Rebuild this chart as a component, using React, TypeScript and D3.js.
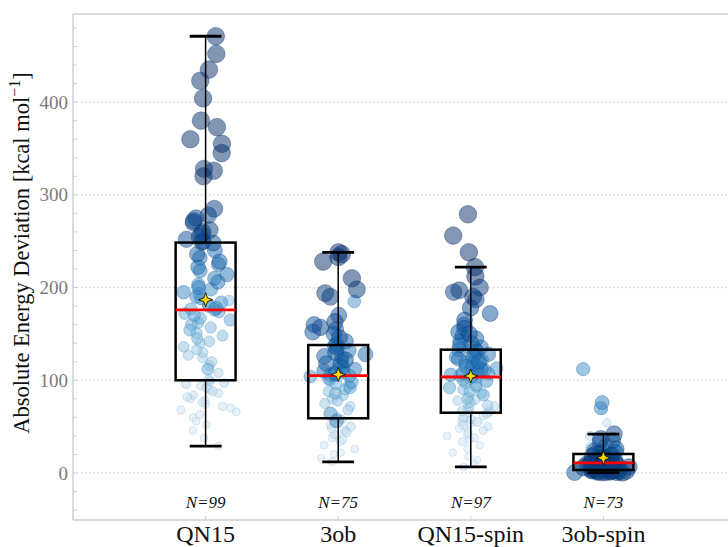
import React from "react";
import * as d3 from "d3";

// ---- data ----
const categories = ["QN15", "3ob", "QN15-spin", "3ob-spin"];
const yTicks = [0, 100, 200, 300, 400];
const yLabel = "Absolute Energy Deviation [kcal mol";

// [absolute deviation, colour/size variable (0..1)]
const qn15: [number, number][] = [
  [471, 1], [452, 1], [435, 1], [423, 1], [404, 1], [380, 1], [373, 1], [360, 1], [355, 1], [345, 1], [328, 0.98], [326, 1], [320, 1],
  [285, 0.95], [278, 0.9], [275, 0.88], [272, 0.92], [270, 0.9], [262, 0.93], [260, 0.92], [258, 0.9], [255, 0.92], [252, 0.88], [250, 0.9], [249, 0.9],
  [248, 0.85], [240, 0.75], [236, 0.8], [232, 0.72], [228, 0.78], [225, 0.7], [222, 0.72], [218, 0.68], [214, 0.7], [210, 0.65], [206, 0.7], [203, 0.62], [200, 0.65], [198, 0.6], [195, 0.62], [193, 0.58], [190, 0.6], [188, 0.55], [186, 0.35], [184, 0.55], [182, 0.5], [180, 0.55], [178, 0.6], [177, 0.5], [176, 0.55],
  [174, 0.5], [172, 0.45], [170, 0.5], [167, 0.45], [165, 0.48], [162, 0.42], [160, 0.45], [157, 0.4], [154, 0.45], [151, 0.4],
  [148, 0.38], [145, 0.4], [142, 0.35], [140, 0.3], [136, 0.35], [133, 0.3], [130, 0.28], [127, 0.3], [124, 0.25], [120, 0.3], [116, 0.28], [112, 0.45], [108, 0.22], [101, 0.25],
  [99, 0.2], [97, 0.18], [96, 0.2], [94, 0.15], [92, 0.18], [90, 0.15], [88, 0.2], [86, 0.15], [84, 0.12], [82, 0.15], [80, 0.12], [78, 0.1], [76, 0.12], [74, 0.1], [72, 0.12], [70, 0.1], [68, 0.1], [66, 0.08], [63, 0.1], [60, 0.08], [56, 0.08], [52, 0.06], [46, 0.06], [38, 0.05], [29, 0.05],
];

const ob3: [number, number][] = [
  [238, 1], [236, 1], [233, 1], [228, 1], [210, 1], [198, 0.95], [194, 0.95], [190, 0.95], [185, 0.55], [170, 0.85], [163, 0.9], [160, 0.85], [157, 0.9], [155, 0.8], [152, 0.85], [150, 0.8], [146, 0.85], [142, 0.8], [139, 0.75],
  [137, 0.8], [135, 0.75], [132, 0.7], [130, 0.85], [128, 0.75], [126, 0.8], [124, 0.7], [122, 0.85], [120, 0.75], [118, 0.8], [116, 0.7], [114, 0.75], [112, 0.65], [110, 0.7], [109, 0.6], [108, 0.65], [107, 0.75], [106, 0.6],
  [105, 0.6],
  [104, 0.55], [102, 0.5], [100, 0.45], [98, 0.55], [96, 0.45], [94, 0.4], [92, 0.5], [90, 0.4], [88, 0.35], [86, 0.45], [84, 0.35], [80, 0.3], [78, 0.35], [75, 0.3], [72, 0.25], [68, 0.3], [64, 0.6], [60, 0.25],
  [58, 0.2], [56, 0.6], [54, 0.2], [52, 0.15], [50, 0.2], [48, 0.15], [46, 0.15], [44, 0.2], [42, 0.12], [40, 0.1], [38, 0.1], [36, 0.12], [34, 0.1], [30, 0.08], [26, 0.08], [22, 0.06], [20, 0.06], [16, 0.05], [12, 0.05],
];

const qn15spin: [number, number][] = [
  [279, 1], [256, 1], [238, 1], [222, 1], [212, 1], [200, 0.95], [197, 0.95], [195, 0.9], [190, 0.95], [187, 0.9], [178, 0.9], [172, 0.85], [165, 0.85], [160, 0.8], [156, 0.85], [152, 0.8], [150, 0.85], [148, 0.75], [145, 0.8], [142, 0.75], [140, 0.8], [138, 0.75], [136, 0.7], [134, 0.75],
  [133, 0.7],
  [131, 0.75], [130, 0.65], [128, 0.7], [126, 0.75], [125, 0.65], [123, 0.7], [122, 0.6], [120, 0.75], [119, 0.65], [118, 0.7], [116, 0.6], [115, 0.7], [114, 0.65], [113, 0.55], [112, 0.7], [111, 0.6], [110, 0.55], [109, 0.65], [108, 0.6], [107, 0.55], [106, 0.6], [105, 0.5], [104, 0.55],
  [103.5, 0.5],
  [102, 0.5], [100, 0.45], [99, 0.55], [97, 0.4], [95, 0.45], [93, 0.4], [92, 0.5], [90, 0.35], [88, 0.4], [86, 0.35], [84, 0.45], [82, 0.3], [80, 0.35], [79, 0.3], [78, 0.25], [76, 0.3], [75, 0.25], [73, 0.3], [72, 0.2], [70, 0.25], [69, 0.2], [67, 0.25], [66, 0.2],
  [65, 0.2],
  [64, 0.2], [62, 0.15], [60, 0.2], [58, 0.15], [56, 0.15], [55, 0.2], [53, 0.12], [52, 0.15], [50, 0.12], [48, 0.1], [46, 0.12], [44, 0.1], [42, 0.1], [40, 0.08], [38, 0.1], [36, 0.08], [34, 0.08], [30, 0.06], [26, 0.06], [22, 0.05], [18, 0.05], [14, 0.05], [10, 0.05], [6.5, 0.05],
];

const ob3spin: [number, number][] = [
  [112, 0.6], [76, 0.65], [70, 0.6], [68, 0.2], [54, 0.15], [42, 0.9], [40, 0.2], [37, 0.9], [35, 0.85], [33, 0.8], [30, 0.7], [28, 0.2], [26, 0.85], [25, 0.3], [24, 0.8], [23, 0.75], [22, 0.85], [21, 0.3],
  [20.5, 0.9],
  [20, 0.85], [19, 0.9], [18.5, 0.8], [18, 0.9], [17, 0.85], [16.5, 0.9], [16, 0.8], [15, 0.9], [14.5, 0.85], [14, 0.95], [13.5, 0.8], [13, 0.9], [12.5, 0.85], [12, 0.95], [11.5, 0.9], [11.2, 0.85], [11, 0.9],
  [10.8, 0.9],
  [10.5, 0.95], [10, 0.85], [9.5, 0.9], [9, 0.95], [8.5, 0.85], [8, 0.9], [7.5, 0.95], [7, 0.85], [6.5, 0.9], [6, 0.95], [5.5, 0.9], [5, 0.85], [4.8, 0.9], [4.5, 0.95], [4, 0.85], [3.6, 0.9], [3.4, 0.95],
  [3.2, 0.9],
  [3.1, 0.9], [3, 0.85], [2.8, 0.95], [2.6, 0.9], [2.4, 0.85], [2.2, 0.95], [2, 0.9], [1.8, 0.85], [1.6, 0.9], [1.4, 0.95], [1.2, 0.85], [1, 0.9], [0.9, 0.3], [0.8, 0.95], [0.6, 0.9], [0.5, 0.85], [0.4, 0.9], [0.3, 0.95],
];

const groups = [qn15, ob3, qn15spin, ob3spin];

// ---- layout ----
const W = 728;
const H = 547;
const x = d3.scaleLinear().domain([0, 5]).range([73, 736]);
const y = d3.scaleLinear().domain([-50.7, 495]).range([520, 14]);
const BOX_HALF = 0.226; // category units
const CAP_HALF = 0.12;

function stats(g: [number, number][]) {
  const v = g.map((d) => d[0]).sort(d3.ascending);
  const q1 = d3.quantileSorted(v, 0.25)!;
  const med = d3.quantileSorted(v, 0.5)!;
  const q3 = d3.quantileSorted(v, 0.75)!;
  const iqr = q3 - q1;
  const lo = d3.min(v.filter((d) => d >= q1 - 1.5 * iqr))!;
  const hi = d3.max(v.filter((d) => d <= q3 + 1.5 * iqr))!;
  const mean = d3.mean(v)!;
  return { q1, med, q3, lo, hi, mean };
}

function starPath(cx: number, cy: number, R: number, r: number) {
  const pts: [number, number][] = [];
  for (let i = 0; i < 8; i++) {
    const a = (Math.PI / 4) * i - Math.PI / 2;
    const rad = i % 2 === 0 ? R : r;
    pts.push([cx + rad * Math.cos(a), cy + rad * Math.sin(a)]);
  }
  return "M" + pts.map((p) => p.join(",")).join("L") + "Z";
}

export default function App() {
  const serif = "Liberation Serif, serif";
  const minor = d3.range(-40, 495, 20);

  const points = groups.flatMap((g, gi) => {
    const rng = d3.randomNormal.source(d3.randomLcg(0.1 + gi * 0.17))(0, 0.085);
    return g.map(([v, t]) => {
      let j = rng();
      j = Math.max(-0.27, Math.min(0.27, j));
      return { gi, v, t, j };
    });
  }).sort((a, b) => a.t - b.t);

  return (
    <svg
      width={W}
      height={H}
      style={{ position: "absolute", left: 0, top: 0, background: "#fff", fontFamily: serif }}
    >
      {/* grid */}
      {yTicks.map((t) => (
        <line key={"g" + t} x1={x(0)} x2={W} y1={y(t)} y2={y(t)} stroke="#d6d6d6" strokeWidth={1.5} strokeDasharray="1.5,2.5" />
      ))}
      {/* spines */}
      <line x1={x(0)} x2={x(0)} y1={y.range()[1]} y2={y.range()[0]} stroke="#cfcfcf" strokeWidth={1.5} />
      <line x1={x(0)} x2={W} y1={y.range()[1]} y2={y.range()[1]} stroke="#cfcfcf" strokeWidth={1.5} />
      <line x1={x(0)} x2={W} y1={y.range()[0]} y2={y.range()[0]} stroke="#cfcfcf" strokeWidth={1.5} />
      {/* minor ticks */}
      {minor.map((t) => (
        <line key={"m" + t} x1={x(0)} x2={x(0) + 4} y1={y(t)} y2={y(t)} stroke="#d0d0d0" strokeWidth={1} />
      ))}
      {categories.map((c, i) => (
        <line key={"xt" + c} x1={x(i + 1)} x2={x(i + 1)} y1={y.range()[0]} y2={y.range()[0] - 4} stroke="#cfcfcf" strokeWidth={1} />
      ))}
      {/* y tick labels */}
      {yTicks.map((t) => (
        <text key={"yl" + t} x={x(0) - 5} y={y(t)} dy="0.35em" textAnchor="end" fontSize={19} fill="#7a7a7a" fontFamily={serif}>
          {t}
        </text>
      ))}
      {/* y label */}
      <text transform={`translate(29,${253}) rotate(-90)`} textAnchor="middle" fontSize={22.5} fill="#111" fontFamily={serif}>
        {yLabel}
        <tspan dy={-9} fontSize={16}>−1</tspan>
        <tspan dy={9}>]</tspan>
      </text>
      {/* points */}
      {points.map((p, k) => (
        <circle
          key={k}
          cx={x(p.gi + 1 + p.j)}
          cy={y(p.v)}
          r={3.5 + 5.3 * p.t}
          fill={d3.interpolateBlues(0.1 + 0.9 * p.t)}
          fillOpacity={0.5}
          stroke={d3.interpolateBlues(Math.min(1, 0.35 + 0.75 * p.t))}
          strokeOpacity={0.45}
          strokeWidth={0.8}
        />
      ))}
      {/* boxes */}
      {groups.map((g, i) => {
        const s = stats(g);
        const c = i + 1;
        return (
          <g key={"b" + i}>
            <line x1={x(c)} x2={x(c)} y1={y(s.q3)} y2={y(s.hi)} stroke="#000" strokeWidth={1.5} />
            <line x1={x(c)} x2={x(c)} y1={y(s.q1)} y2={y(s.lo)} stroke="#000" strokeWidth={1.5} />
            <line x1={x(c - CAP_HALF)} x2={x(c + CAP_HALF)} y1={y(s.hi)} y2={y(s.hi)} stroke="#000" strokeWidth={2.8} />
            <line x1={x(c - CAP_HALF)} x2={x(c + CAP_HALF)} y1={y(s.lo)} y2={y(s.lo)} stroke="#000" strokeWidth={2.8} />
            <rect
              x={x(c - BOX_HALF)}
              y={y(s.q3)}
              width={x(c + BOX_HALF) - x(c - BOX_HALF)}
              height={y(s.q1) - y(s.q3)}
              fill="none"
              stroke="#000"
              strokeWidth={2.5}
            />
            <line x1={x(c - BOX_HALF)} x2={x(c + BOX_HALF)} y1={y(s.med)} y2={y(s.med)} stroke="#f00" strokeWidth={2.8} />
            <path d={starPath(x(c), y(s.mean), 7, 2.6)} fill="#ffd700" stroke="#000" strokeWidth={0.8} />
            <text x={x(c)} y={508} textAnchor="middle" fontSize={17} fontStyle="italic" fill="#111" fontFamily={serif}>
              {"N=" + g.length}
            </text>
            <text x={x(c)} y={542} textAnchor="middle" fontSize={24} fill="#111" fontFamily={serif}>
              {categories[i]}
            </text>
          </g>
        );
      })}
    </svg>
  );
}
